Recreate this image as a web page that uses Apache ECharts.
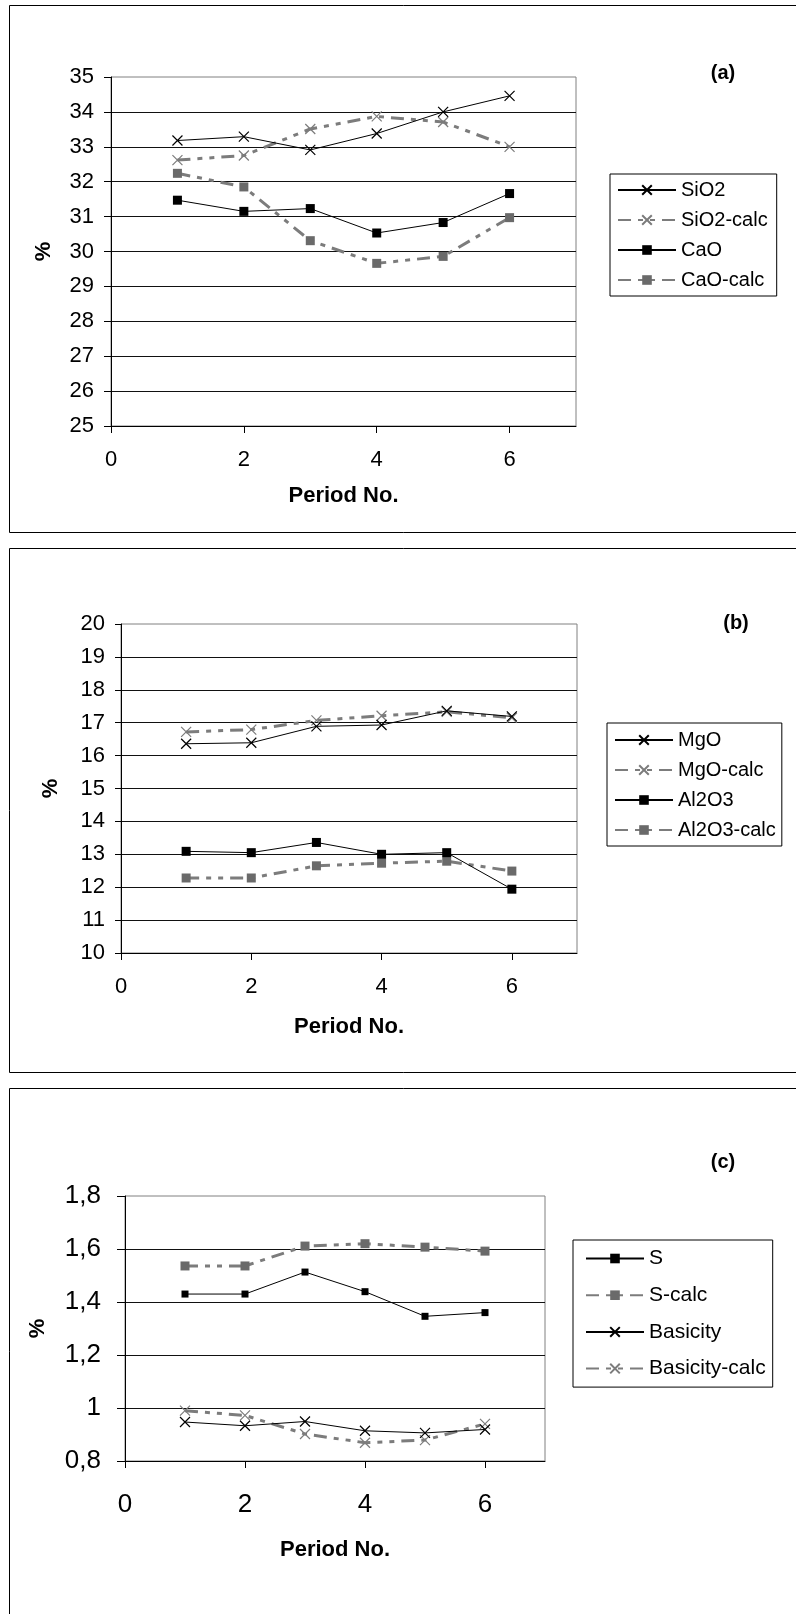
<!DOCTYPE html>
<html>
<head>
<meta charset="utf-8">
<script src="https://cdn.jsdelivr.net/npm/echarts@6/dist/echarts.min.js"></script>
<style>
html,body{margin:0;padding:0;background:#fff;}
#chart{width:796px;height:1614px;}
</style>
</head>
<body>
<div id="chart"></div>
<script>
// ---- data ----
const periods = [1, 2, 3, 4, 5, 6];
const xTicks = [0, 2, 4, 6];

// panel (a)
const SiO2      = [33.18, 33.29, 32.91, 33.38, 34.00, 34.46];
const SiO2calc  = [32.62, 32.75, 33.51, 33.87, 33.71, 33.00];
const CaO       = [31.47, 31.15, 31.23, 30.53, 30.83, 31.66];
const CaOcalc   = [32.24, 31.85, 30.31, 29.66, 29.86, 30.97];
const yTicksA   = [25, 26, 27, 28, 29, 30, 31, 32, 33, 34, 35];

// panel (b)
const MgO       = [16.36, 16.39, 16.89, 16.93, 17.36, 17.19];
const MgOcalc   = [16.72, 16.79, 17.07, 17.21, 17.33, 17.15];
const Al2O3     = [13.09, 13.05, 13.36, 13.00, 13.05, 11.94];
const Al2O3calc = [12.28, 12.28, 12.65, 12.73, 12.79, 12.49];
const yTicksB   = [10, 11, 12, 13, 14, 15, 16, 17, 18, 19, 20];

// panel (c)
const S            = [1.430, 1.430, 1.513, 1.439, 1.346, 1.360];
const Scalc        = [1.536, 1.536, 1.611, 1.620, 1.607, 1.592];
const Basicity     = [0.947, 0.933, 0.949, 0.914, 0.906, 0.919];
const BasicityCalc = [0.990, 0.972, 0.902, 0.869, 0.879, 0.940];
const yTicksC      = [0.8, 1.0, 1.2, 1.4, 1.6, 1.8];

const panelTags = ['(a)', '(b)', '(c)'];
const xName = 'Period No.';
const yName = '%';

// ---- styling ----
const FONT = '"Liberation Sans", Arial, sans-serif';
const GRAY = '#7c7c7c';
const CROSS = 'path://M0,0L10,10M0,10L10,0';
const DASH = [13, 7, 5, 7, 5, 7];

function pts(vals) { return periods.map((p, i) => [p, vals[i]]); }

function series(name, vals, idx, calc, sym, size) {
  const isCross = sym === 'cross';
  const col = calc ? GRAY : '#000';
  return {
    type: 'line', name: name, xAxisIndex: idx, yAxisIndex: idx,
    data: pts(vals),
    symbol: isCross ? CROSS : 'rect',
    symbolSize: size,
    showAllSymbol: true,
    lineStyle: calc ? {color: GRAY, width: 3, type: DASH} : {color: '#000', width: 1, type: 'solid'},
    itemStyle: isCross ? {color: 'rgba(0,0,0,0)', borderColor: col, borderWidth: 1.2}
                       : {color: calc ? '#6a6a6a' : '#000', borderWidth: 0},
    emphasis: {disabled: true},
    animation: false,
    z: calc ? 2 : 3
  };
}

const grids = [
  {left: 111, top: 77, width: 465, height: 349},
  {left: 121, top: 624, width: 456, height: 329},
  {left: 125, top: 1196, width: 420, height: 265}
];
const yRanges = [
  {min: yTicksA[0], max: yTicksA[yTicksA.length - 1], interval: 1},
  {min: yTicksB[0], max: yTicksB[yTicksB.length - 1], interval: 1},
  {min: yTicksC[0], max: yTicksC[yTicksC.length - 1], interval: 0.2}
];
const tickFont = [22, 22, 26];
const yLabelMargin = [17, 16, 24];
const xLabelMargin = [23, 23, 31];
const xNameGap = [59, 63, 78];
const yNameGap = [56, 59, 76];
const tickLen = [7, 6, 8];

function fmtC(v) { return String(Math.round(v * 10) / 10).replace('.', ','); }

const xAxes = grids.map((g, i) => ({
  type: 'value', gridIndex: i, min: 0, max: 7, interval: 2,
  name: xName, nameLocation: 'middle', nameGap: xNameGap[i],
  nameTextStyle: {fontFamily: FONT, fontWeight: 'bold', fontSize: 22, color: '#000'},
  axisLine: {show: true, onZero: false, lineStyle: {color: '#000', width: 1}},
  axisTick: {show: true, length: 7, lineStyle: {color: '#000'}, customValues: xTicks},
  axisLabel: {fontFamily: FONT, fontSize: tickFont[i], color: '#000', margin: xLabelMargin[i], customValues: xTicks},
  splitLine: {show: false}
}));

const yAxes = grids.map((g, i) => ({
  type: 'value', gridIndex: i, min: yRanges[i].min, max: yRanges[i].max, interval: yRanges[i].interval,
  name: yName, nameLocation: 'middle', nameGap: yNameGap[i],
  nameTextStyle: {fontFamily: FONT, fontWeight: 'bold', fontSize: 22, color: '#000'},
  axisLine: {show: true, onZero: false, lineStyle: {color: '#000', width: 1}},
  axisTick: {show: true, length: tickLen[i], lineStyle: {color: '#000'}},
  axisLabel: {fontFamily: FONT, fontSize: tickFont[i], color: '#000', margin: yLabelMargin[i],
              formatter: i === 2 ? fmtC : undefined},
  splitLine: {show: true, showMaxLine: false, lineStyle: {color: '#111', width: 1}}
}));

function legend(names, left, top, padding, gap, fs) {
  return {
    data: names, orient: 'vertical', left: left, top: top, padding: padding,
    itemGap: gap, itemWidth: 58, itemHeight: 12,
    borderColor: '#000', borderWidth: 1, backgroundColor: '#fff',
    selectedMode: false,
    textStyle: {fontFamily: FONT, fontSize: fs, color: '#000'}
  };
}

const option = {
  backgroundColor: '#fff',
  animation: false,
  grid: grids.map(g => Object.assign({show: true, borderColor: '#808080', borderWidth: 1, backgroundColor: 'transparent'}, g)),
  xAxis: xAxes,
  yAxis: yAxes,
  legend: [
    legend(['SiO2', 'SiO2-calc', 'CaO', 'CaO-calc'], 610, 174, [6, 9, 6, 7], 10, 20),
    legend(['MgO', 'MgO-calc', 'Al2O3', 'Al2O3-calc'], 607, 723, [7, 6, 6, 7], 10, 20),
    legend(['S', 'S-calc', 'Basicity', 'Basicity-calc'], 573, 1240, [8, 7, 8, 12], 15.7, 21)
  ],
  series: [
    series('SiO2', SiO2, 0, false, 'cross', 10),
    series('SiO2-calc', SiO2calc, 0, true, 'cross', 10),
    series('CaO', CaO, 0, false, 'rect', 9),
    series('CaO-calc', CaOcalc, 0, true, 'rect', 9),
    series('MgO', MgO, 1, false, 'cross', 10),
    series('MgO-calc', MgOcalc, 1, true, 'cross', 10),
    series('Al2O3', Al2O3, 1, false, 'rect', 9),
    series('Al2O3-calc', Al2O3calc, 1, true, 'rect', 9),
    series('S', S, 2, false, 'rect', 7),
    series('S-calc', Scalc, 2, true, 'rect', 9),
    series('Basicity', Basicity, 2, false, 'cross', 10),
    series('Basicity-calc', BasicityCalc, 2, true, 'cross', 10)
  ],
  graphic: [
    {type: 'rect', silent: true, z: -10, shape: {x: 9.5, y: 5.5, width: 800, height: 527}, style: {fill: 'none', stroke: '#000', lineWidth: 1}},
    {type: 'rect', silent: true, z: -10, shape: {x: 9.5, y: 548.5, width: 800, height: 524}, style: {fill: 'none', stroke: '#000', lineWidth: 1}},
    {type: 'rect', silent: true, z: -10, shape: {x: 9.5, y: 1088.5, width: 800, height: 600}, style: {fill: 'none', stroke: '#000', lineWidth: 1}},
    {type: 'text', silent: true, x: 723, y: 73, style: {text: panelTags[0], fontFamily: FONT, fontWeight: 'bold', fontSize: 20, fill: '#000', align: 'center', verticalAlign: 'middle'}},
    {type: 'text', silent: true, x: 736, y: 623, style: {text: panelTags[1], fontFamily: FONT, fontWeight: 'bold', fontSize: 20, fill: '#000', align: 'center', verticalAlign: 'middle'}},
    {type: 'text', silent: true, x: 723, y: 1162, style: {text: panelTags[2], fontFamily: FONT, fontWeight: 'bold', fontSize: 20, fill: '#000', align: 'center', verticalAlign: 'middle'}}
  ]
};

const chart = echarts.init(document.getElementById('chart'), null, {renderer: 'canvas', width: 796, height: 1614});
chart.setOption(option);
</script>
</body>
</html>
